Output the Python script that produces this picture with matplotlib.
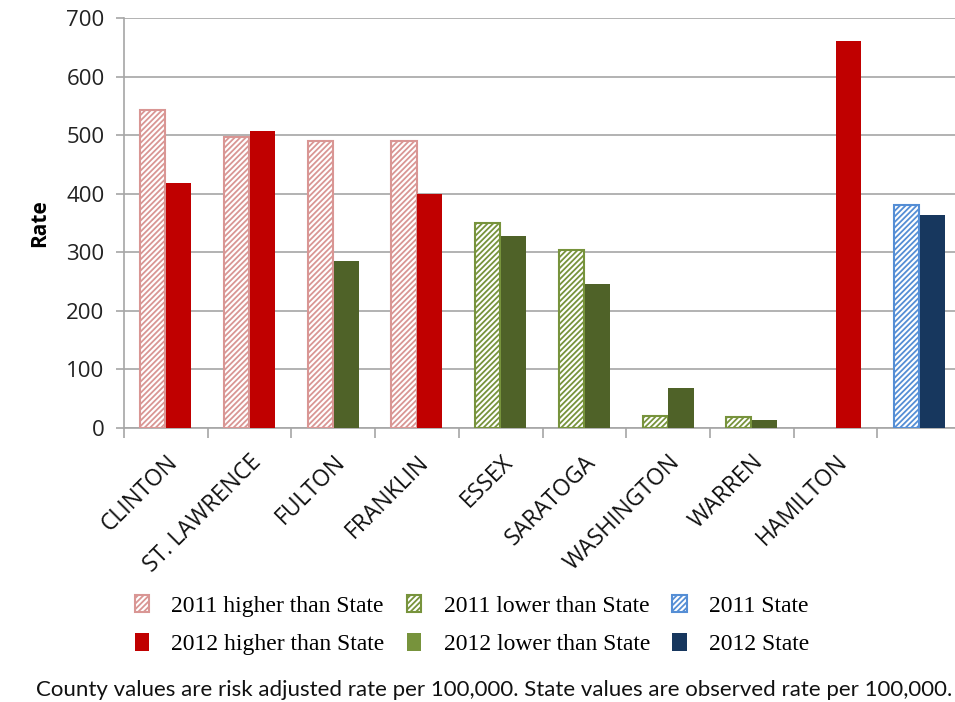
import numpy as np
import matplotlib
matplotlib.use("Agg")
import matplotlib.pyplot as plt
from matplotlib.patches import Patch

# Data
counties = ['CLINTON', 'ST. LAWRENCE', 'FULTON', 'FRANKLIN', 'ESSEX',
            'SARATOGA', 'WASHINGTON', 'WARREN', 'HAMILTON', '']
rate_2011 = [543, 497, 490, 490, 350, 304, 20, 18, 0, 380]
rate_2012 = [418, 507, 285, 400, 327, 246, 68, 14, 660, 364]
# group for each bar: 'high' = higher than State, 'low' = lower than State, 'state'
group_2011 = ['high', 'high', 'high', 'high', 'low', 'low', 'low', 'low', 'high', 'state']
group_2012 = ['high', 'high', 'low', 'high', 'low', 'low', 'low', 'low', 'high', 'state']

legend_labels = ['2011 higher than State', '2012 higher than State',
                 '2011 lower than State', '2012 lower than State',
                 '2011 State', '2012 State']
footnote = 'County values are risk adjusted rate per 100,000. State values are observed rate per 100,000.'

# colours
hatch_col = {'high': '#D99694', 'low': '#77933C', 'state': '#558ED5'}
solid_col = {'high': '#C00000', 'low': '#4F6228', 'state': '#17375E'}

plt.rcParams['hatch.linewidth'] = 1.3

fig = plt.figure(figsize=(9.55, 7.02), dpi=100)
ax = fig.add_axes([124 / 955, 1 - 428 / 702, 837 / 955, 410 / 702])

x = np.arange(len(counties))
w = 0.3
for i in range(len(counties)):
    if rate_2011[i] > 0:
        c = hatch_col[group_2011[i]]
        ax.bar(x[i] - 0.155, rate_2011[i], w, facecolor='white', edgecolor=c,
               hatch='//////', linewidth=1.5, zorder=3)
    c = solid_col[group_2012[i]]
    ax.bar(x[i] + 0.155, rate_2012[i], w, color=c, zorder=3)

ax.set_xlim(-0.5, len(counties) - 0.5)
ax.set_ylim(0, 700)
ax.set_yticks(np.arange(0, 701, 100))
ax.yaxis.grid(True, color='#A6A6A6', linewidth=1.2, zorder=0)
ax.set_axisbelow(True)

for s in ['top', 'right']:
    ax.spines[s].set_visible(False)
for s in ['left', 'bottom']:
    ax.spines[s].set_color('#A6A6A6')
    ax.spines[s].set_linewidth(1.2)

ax.set_xticks(x)
ax.set_xticklabels(counties, rotation=45, ha='right', rotation_mode='anchor',
                   fontsize=16.5, family='Open Sans', color='#111111')
ax.tick_params(axis='x', length=0, pad=16)
ax.set_xticks(np.arange(-0.5, len(counties) - 0.4, 1), minor=True)
ax.tick_params(axis='x', which='minor', length=7, color='#A6A6A6', width=1.2)
ax.tick_params(axis='y', length=6, color='#A6A6A6', width=1.2, pad=8,
               labelsize=16, labelcolor='#222222')
for t in ax.get_yticklabels():
    t.set_family('Open Sans')

ax.set_ylabel('Rate', fontsize=15, fontweight='bold', family='Open Sans', labelpad=12)

handles = [
    Patch(facecolor='white', edgecolor=hatch_col['high'], hatch='//////', linewidth=1.5),
    Patch(facecolor=solid_col['high']),
    Patch(facecolor='white', edgecolor=hatch_col['low'], hatch='//////', linewidth=1.5),
    Patch(facecolor='#77933C'),
    Patch(facecolor='white', edgecolor=hatch_col['state'], hatch='//////', linewidth=1.5),
    Patch(facecolor=solid_col['state']),
]
fig.legend(handles, legend_labels, ncol=3, loc='center',
           bbox_to_anchor=(472 / 955, 1 - 625 / 702), frameon=False,
           prop={'family': 'Liberation Serif', 'size': 17},
           handlelength=0.6, handleheight=0.75, handletextpad=0.95,
           columnspacing=0.95, labelspacing=0.7)

fig.text(952 / 955, 1 - 690 / 702, footnote, ha='right', va='center',
         fontsize=16, family='Lato', color='#111111')

fig.savefig('out.png', dpi=100)
